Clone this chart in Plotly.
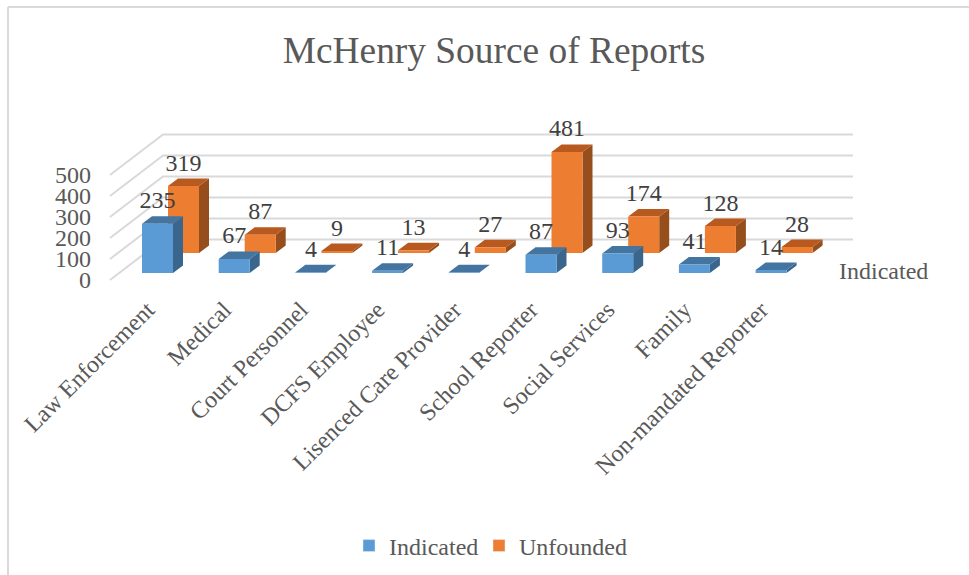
import plotly.graph_objects as go

categories = ["Law Enforcement", "Medical", "Court Personnel", "DCFS Employee",
              "Lisenced Care Provider", "School Reporter", "Social Services",
              "Family", "Non-mandated Reporter"]
indicated = [235, 67, 4, 11, 4, 87, 93, 41, 14]
unfounded = [319, 87, 9, 13, 27, 481, 174, 128, 28]
y_ticks = [0, 100, 200, 300, 400, 500]

W, H = 969, 575
L, R, T, B = 100, 860, 100, 570          # plot area in pixels
AXIS_PX = 290                            # where the category axis hangs
PX_PER_CAT = 76.7
PX_PER_VAL = 0.21
X0_PX = 157.5                            # centre of first front bar
Y0_PX = 280                              # value 0 on the front wall

xr = [(L - X0_PX) / PX_PER_CAT, (R - X0_PX) / PX_PER_CAT]
yr = [(Y0_PX - B) / PX_PER_VAL, (Y0_PX - T) / PX_PER_VAL]

dxu = lambda px: px / PX_PER_CAT
dyu = lambda px: px / PX_PER_VAL

BAR_W = dxu(31)
BD_X, BD_Y = dxu(10), dyu(7.5)


def faces(values, off_x, off_y):
    fx, fy, tx, ty, sx, sy = [], [], [], [], [], []
    for i, v in enumerate(values):
        x0 = i - BAR_W / 2 + off_x
        x1 = x0 + BAR_W
        y0 = off_y
        y1 = off_y + v
        fx += [x0, x1, x1, x0, x0, None]
        fy += [y0, y0, y1, y1, y0, None]
        tx += [x0, x1, x1 + BD_X, x0 + BD_X, x0, None]
        ty += [y1, y1, y1 + BD_Y, y1 + BD_Y, y1, None]
        sx += [x1, x1 + BD_X, x1 + BD_X, x1, x1, None]
        sy += [y0, y0 + BD_Y, y1 + BD_Y, y1, y0, None]
    return (fx, fy), (tx, ty), (sx, sy)


def poly(xy, color):
    return go.Scatter(x=xy[0], y=xy[1], mode="lines", fill="toself", fillcolor=color,
                      line=dict(width=0, color=color), hoverinfo="skip", showlegend=False)


fig = go.Figure()

# walls / gridlines
grid_x0 = dxu(110 - X0_PX)
grid_x1 = dxu(163 - X0_PX)
grid_x2 = dxu(853 - X0_PX)
gx, gy = [], []
for t in y_ticks:
    gx += [grid_x0, grid_x1, grid_x2, None]
    gy += [t, t + dyu(40.5), t + dyu(40.5), None]
fig.add_trace(go.Scatter(x=gx, y=gy, mode="lines", line=dict(color="#D9D9D9", width=2),
                         hoverinfo="skip", showlegend=False))

SER = [
    (unfounded, dxu(26), dyu(27), "#ED7D31", "#B8591F", "#964F1C"),
    (indicated, 0.0, dyu(7), "#5B9BD5", "#4474A0", "#3A658C"),
]
for vals, ox, oy, cf, ct, cs in SER:
    f, t, s = faces(vals, ox, oy)
    fig.add_trace(poly(s, cs))
    fig.add_trace(poly(t, ct))
    fig.add_trace(poly(f, cf))

# data labels
FONT = "Liberation Serif"
LBL = "#404040"
SZ = 24
for vals, ox, oy in [(unfounded, dxu(26), dyu(27)), (indicated, 0.0, dyu(7))]:
    fig.add_trace(go.Scatter(
        x=[i + ox for i in range(len(vals))],
        y=[v + oy + BD_Y + dyu(14) for v in vals],
        mode="text", text=[str(v) for v in vals], textposition="middle center",
        textfont=dict(family=FONT, size=SZ, color=LBL),
        cliponaxis=False, hoverinfo="skip", showlegend=False))

# legend entries
fig.add_trace(go.Bar(x=[None], y=[None], name="Indicated", marker_color="#5B9BD5", legend="legend"))
fig.add_trace(go.Bar(x=[None], y=[None], name="Unfounded", marker_color="#ED7D31", legend="legend2"))

px_x = lambda p: (p - L) / (R - L)
px_y = lambda p: (B - p) / (B - T)

leg = dict(orientation="h", xanchor="left", y=px_y(546), yanchor="middle",
           font=dict(family=FONT, size=SZ, color="#595959"), bgcolor="rgba(0,0,0,0)", itemwidth=30)

fig.update_layout(
    width=W, height=H, autosize=False,
    margin=dict(l=L, r=W - R, t=T, b=H - B),
    paper_bgcolor="white", plot_bgcolor="rgba(0,0,0,0)",
    font=dict(family=FONT, size=SZ, color="#595959"),
    showlegend=True,
    title=dict(text="McHenry Source of Reports", x=494 / W, y=1 - 50 / H, xanchor="center",
               yanchor="middle", xref="container",
               font=dict(family=FONT, size=37.4, color="#595959")),
    xaxis=dict(range=xr, tickmode="array", tickvals=list(range(len(categories))),
               ticktext=categories, tickangle=-45, showgrid=False, zeroline=False,
               showline=False, ticks="", ticklabelshift=-10, anchor="free", position=px_y(AXIS_PX),
               tickfont=dict(family=FONT, size=SZ, color="#595959"), automargin=False),
    yaxis=dict(range=yr, tickmode="array", tickvals=y_ticks, showgrid=False, zeroline=False,
               showline=False, ticks="", ticklabelstandoff=8,
               tickfont=dict(family=FONT, size=SZ, color="#595959"), automargin=False),
    legend=dict(leg, x=px_x(349)),
    legend2=dict(leg, x=px_x(479)),
    annotations=[dict(text="Indicated", xref="paper", yref="paper", x=px_x(883), y=px_y(271),
                      xanchor="center", yanchor="middle", showarrow=False,
                      font=dict(family=FONT, size=SZ, color="#595959"))],
    shapes=[
        dict(type="line", xref="paper", yref="paper", x0=px_x(8), x1=px_x(8), y0=px_y(7), y1=px_y(580),
             line=dict(color="#D9D9D9", width=2)),
        dict(type="line", xref="paper", yref="paper", x0=px_x(8), x1=px_x(975), y0=px_y(7), y1=px_y(7),
             line=dict(color="#D9D9D9", width=2)),
    ],
)

fig.write_html("out.html", post_script="document.body.style.margin='0';",
               config={"displayModeBar": False})
